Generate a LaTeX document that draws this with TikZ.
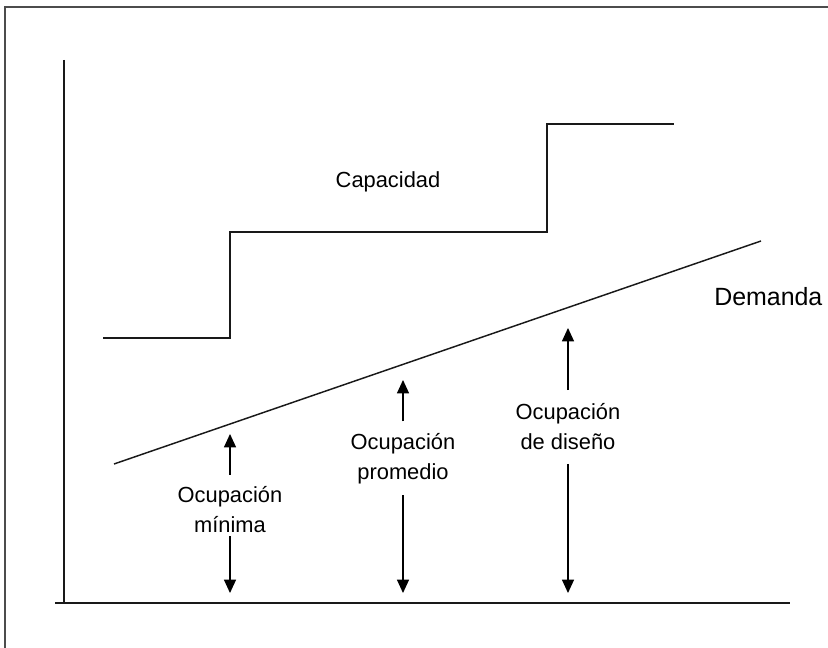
\documentclass[tikz,border=0pt]{standalone}
\usepackage{fontspec}
\setmainfont{Liberation Sans}
\usetikzlibrary{arrows.meta}
\begin{document}
\begin{tikzpicture}[x=0.75pt,y=-0.75pt,
  ln/.style={line width=1.1pt,black!90},
  frame/.style={line width=1.4pt,black!70},
  arr/.style={line width=0.9pt,-{Triangle[width=9pt,length=10pt]}},
  lbl/.style={inner sep=0pt,align=center,font=\fontsize{16.4}{22.5}\selectfont},
  biglbl/.style={inner sep=0pt,font=\fontsize{18.7}{22}\selectfont}]
\useasboundingbox (0,0) rectangle (828,648);
% frame
\draw[frame] (5,650) -- (5,7) -- (830,7);
% axes
\coordinate (yt) at (64,60);
\coordinate (yb) at (64,604);
\coordinate (xl) at (55,603);
\coordinate (xr) at (790,603);
\draw[ln] (yt) -- (yb);
\draw[ln] (xl) -- (xr);
% capacity steps
\coordinate (c0) at (103,338);
\coordinate (c1) at (230,338);
\coordinate (c2) at (230,232);
\coordinate (c3) at (547,232);
\coordinate (c4) at (547,124);
\coordinate (c5) at (674,124);
\draw[ln] (c0) -- (c1) -- (c2) -- (c3) -- (c4) -- (c5);
% demand
\coordinate (d0) at (114,464);
\coordinate (d1) at (761,241);
\draw[ln] (d0) -- (d1);
% labels
\node[lbl] (cap) at (388,182) {Capacidad};
\node[biglbl,anchor=base west] (dem) at (714,306) {Demanda};
\node[lbl] (t1) at (230,510) {Ocupación\\mínima};
\node[lbl] (t2) at (403,459) {Ocupación\\promedio};
\node[lbl] (t3) at (568,427) {Ocupación\\de diseño};
% arrow tips
\coordinate (u1) at (230,434);
\coordinate (b1) at (230,593);
\coordinate (u2) at (403,380);
\coordinate (b2) at (403,593);
\coordinate (u3) at (568,328);
\coordinate (b3) at (568,593);
\draw[arr,shorten <=9pt] (t1.north) -- (u1);
\draw[arr,shorten <=2pt] (t1.south) -- (b1);
\draw[arr,shorten <=9pt] (t2.north) -- (u2);
\draw[arr,shorten <=8pt] (t2.south) -- (b2);
\draw[arr,shorten <=10pt] (t3.north) -- (u3);
\draw[arr,shorten <=10pt] (t3.south) -- (b3);
\end{tikzpicture}
\end{document}
